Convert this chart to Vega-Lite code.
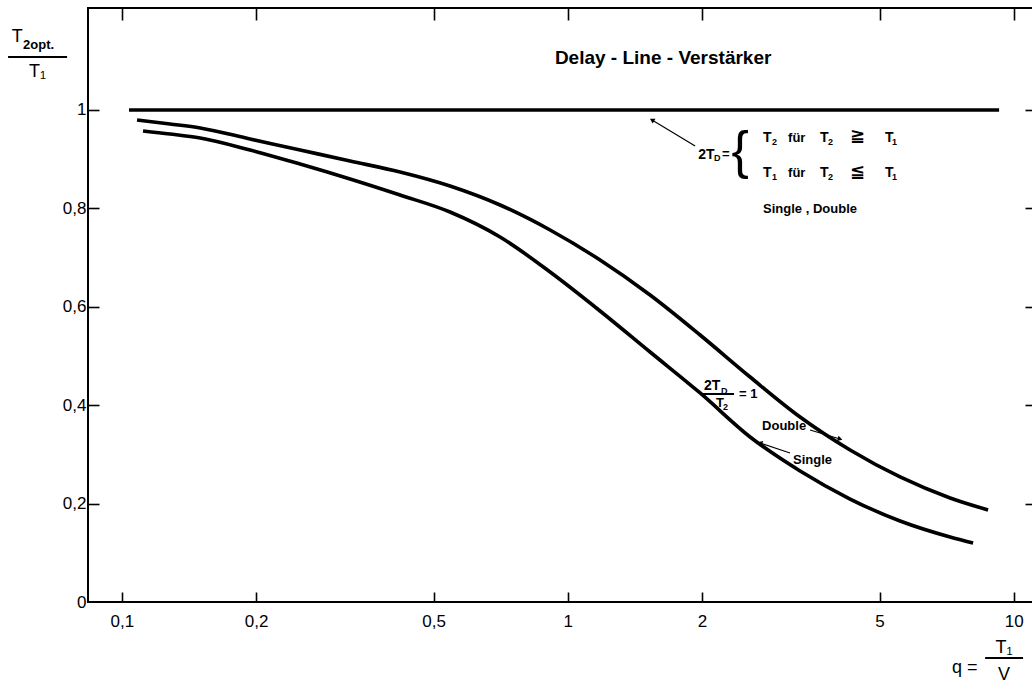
{
  "$schema": "https://vega.github.io/schema/vega-lite/v6.json",
  "width": 946,
  "height": 594,
  "autosize": {"type": "none"},
  "padding": {"left": 88, "top": 8, "right": 0, "bottom": 86},
  "background": "white",
  "config": {
    "view": {"stroke": "black", "strokeWidth": 2},
    "font": "Liberation Sans",
    "axis": {"grid": false, "domain": false, "tickColor": "black", "labelColor": "black", "title": null, "labelFont": "Liberation Sans", "labelFontSize": 17, "tickWidth": 1.6, "labelFlush": false, "labelOverlap": false}
  },
  "datasets": {
    "curves": [
      {"series": "flat", "q": 0.1038, "v": 1.0},
      {"series": "flat", "q": 9.27, "v": 1.0},
      {"series": "Double", "q": 0.1082, "v": 0.9797},
      {"series": "Double", "q": 0.1283, "v": 0.9715},
      {"series": "Double", "q": 0.1499, "v": 0.9634},
      {"series": "Double", "q": 0.1939, "v": 0.9411},
      {"series": "Double", "q": 0.2511, "v": 0.9187},
      {"series": "Double", "q": 0.3250, "v": 0.8963},
      {"series": "Double", "q": 0.4207, "v": 0.8740},
      {"series": "Double", "q": 0.5445, "v": 0.8455},
      {"series": "Double", "q": 0.7050, "v": 0.8069},
      {"series": "Double", "q": 0.9128, "v": 0.7561},
      {"series": "Double", "q": 1.1815, "v": 0.6951},
      {"series": "Double", "q": 1.5295, "v": 0.6240},
      {"series": "Double", "q": 1.9801, "v": 0.5427},
      {"series": "Double", "q": 2.5633, "v": 0.4573},
      {"series": "Double", "q": 3.3178, "v": 0.3760},
      {"series": "Double", "q": 4.2951, "v": 0.3089},
      {"series": "Double", "q": 5.5596, "v": 0.2541},
      {"series": "Double", "q": 7.1975, "v": 0.2114},
      {"series": "Double", "q": 8.7574, "v": 0.1870},
      {"series": "Single", "q": 0.1116, "v": 0.9573},
      {"series": "Single", "q": 0.1283, "v": 0.9512},
      {"series": "Single", "q": 0.1499, "v": 0.9431},
      {"series": "Single", "q": 0.1939, "v": 0.9187},
      {"series": "Single", "q": 0.2511, "v": 0.8902},
      {"series": "Single", "q": 0.3250, "v": 0.8598},
      {"series": "Single", "q": 0.4207, "v": 0.8272},
      {"series": "Single", "q": 0.5445, "v": 0.7927},
      {"series": "Single", "q": 0.7050, "v": 0.7419},
      {"series": "Single", "q": 0.9128, "v": 0.6707},
      {"series": "Single", "q": 1.1815, "v": 0.5915},
      {"series": "Single", "q": 1.5295, "v": 0.5081},
      {"series": "Single", "q": 1.9801, "v": 0.4248},
      {"series": "Single", "q": 2.5633, "v": 0.3354},
      {"series": "Single", "q": 3.3178, "v": 0.2663},
      {"series": "Single", "q": 4.2951, "v": 0.2093},
      {"series": "Single", "q": 5.5596, "v": 0.1646},
      {"series": "Single", "q": 7.1975, "v": 0.1321},
      {"series": "Single", "q": 8.105, "v": 0.1199}
    ]
  },
  "encoding": {
    "x": {"field": "q", "type": "quantitative", "scale": {"type": "log", "domain": [0.084, 11.1]}, "axis": null},
    "y": {"field": "v", "type": "quantitative", "scale": {"domain": [0, 1.2073]}, "axis": null}
  },
  "layer": [
    {
      "data": {"name": "curves"},
      "mark": {"type": "line", "color": "black", "strokeWidth": 3.6, "interpolate": "monotone", "strokeCap": "butt"},
      "encoding": {
        "x": {"field": "q", "type": "quantitative", "scale": {"type": "log", "domain": [0.084, 11.1]},
          "axis": {"orient": "bottom", "values": [0.1, 0.2, 0.5, 1, 2, 5, 10], "labelExpr": "replace(format(datum.value, '~g'), '.', ',')", "tickSize": -10, "labelPadding": 21}},
        "y": {"field": "v", "type": "quantitative", "scale": {"domain": [0, 1.2073]},
          "axis": {"orient": "left", "values": [0, 0.2, 0.4, 0.6, 0.8, 1], "labelExpr": "replace(format(datum.value, '~g'), '.', ',')", "tickSize": -11, "labelPadding": 13, "tickOpacity": {"condition": {"test": "datum.value === 0", "value": 0}, "value": 1}}},
        "detail": {"field": "series", "type": "nominal"}
      }
    },
    {
      "data": {"name": "curves"},
      "mark": {"type": "point", "opacity": 0},
      "encoding": {
        "x": {"field": "q", "type": "quantitative", "scale": {"type": "log", "domain": [0.084, 11.1]},
          "axis": {"orient": "top", "values": [0.1, 0.2, 0.5, 1, 2, 5, 10], "labels": false, "tickSize": -12}},
        "y": {"field": "v", "type": "quantitative", "scale": {"domain": [0, 1.2073]},
          "axis": {"orient": "right", "values": [0.2, 0.4, 0.6, 0.8, 1], "labels": false, "tickSize": -9}}
      }
    },
    {
      "data": {"values": [{"text": "Delay - Line - Verstärker", "q": 1.636, "v": 1.1057}]},
      "mark": {"type": "text", "align": "center", "baseline": "middle", "fontSize": 19, "fontWeight": "bold", "color": "black"},
      "encoding": {"text": {"field": "text"}}
    },
    {
      "data": {"values": [
        {"text": "für", "q": 3.1182, "v": 0.9431},
        {"text": "für", "q": 3.1182, "v": 0.8720},
        {"text": "Single , Double", "q": 2.7409, "v": 0.7988},
        {"text": "Double", "q": 2.727, "v": 0.3577},
        {"text": "Single", "q": 3.2, "v": 0.2886},
        {"text": "=", "q": 2.2178, "v": 0.9105},
        {"text": "T", "q": 2.1499, "v": 0.4045},
        {"text": "= 1", "q": 2.4214, "v": 0.4228}
      ]},
      "mark": {"type": "text", "align": "left", "baseline": "middle", "fontSize": 13, "fontWeight": "bold", "color": "black"},
      "encoding": {"text": {"field": "text"}}
    },
    {
      "data": {"values": [
        {"text": "T", "q": 2.7409, "v": 0.9431},
        {"text": "T", "q": 3.679, "v": 0.9431},
        {"text": "T", "q": 5.1446, "v": 0.9431},
        {"text": "T", "q": 2.7409, "v": 0.8720},
        {"text": "T", "q": 3.679, "v": 0.8720},
        {"text": "T", "q": 5.1446, "v": 0.8720},
        {"text": "2T", "q": 1.96, "v": 0.9085},
        {"text": "2T", "q": 2.0212, "v": 0.4390}
      ]},
      "mark": {"type": "text", "align": "left", "baseline": "middle", "fontSize": 14, "fontWeight": "bold", "color": "black"},
      "encoding": {"text": {"field": "text"}}
    },
    {
      "data": {"values": [
        {"text": "2", "q": 2.8715, "v": 0.9350},
        {"text": "2", "q": 3.834, "v": 0.9350},
        {"text": "1", "q": 5.3339, "v": 0.9350},
        {"text": "1", "q": 2.8715, "v": 0.8638},
        {"text": "2", "q": 3.834, "v": 0.8638},
        {"text": "1", "q": 5.3339, "v": 0.8638},
        {"text": "D", "q": 2.1281, "v": 0.9024},
        {"text": "D", "q": 2.2064, "v": 0.4289},
        {"text": "2", "q": 2.2293, "v": 0.3963}
      ]},
      "mark": {"type": "text", "align": "left", "baseline": "middle", "fontSize": 9, "fontWeight": "bold", "color": "black"},
      "encoding": {"text": {"field": "text"}}
    },
    {
      "data": {"values": [
        {"text": "≧", "q": 4.2951, "v": 0.9472},
        {"text": "≦", "q": 4.2951, "v": 0.8740}
      ]},
      "mark": {"type": "text", "align": "left", "baseline": "middle", "fontSize": 18, "font": "DejaVu Sans", "fontWeight": "bold", "color": "black"},
      "encoding": {"text": {"field": "text"}}
    },
    {
      "data": {"values": [{"text": "{", "q": 2.4339, "v": 0.9146}]},
      "mark": {"type": "text", "align": "center", "baseline": "middle", "fontSize": 52, "font": "Liberation Sans", "color": "black"},
      "encoding": {"text": {"field": "text"}}
    },
    {
      "data": {"values": [
        {"text": "T", "q": 0.05826, "v": 1.1484},
        {"text": "T₁", "q": 0.06477, "v": 1.0772},
        {"text": "T₁", "q": 9.513, "v": -0.0935},
        {"text": "V", "q": 9.513, "v": -0.1484}
      ]},
      "mark": {"type": "text", "align": "center", "baseline": "middle", "fontSize": 18, "color": "black"},
      "encoding": {"text": {"field": "text"}}
    },
    {
      "data": {"values": [{"text": "q =", "q": 7.271, "v": -0.1341}]},
      "mark": {"type": "text", "align": "left", "baseline": "middle", "fontSize": 18, "color": "black"},
      "encoding": {"text": {"field": "text"}}
    },
    {
      "data": {"values": [{"text": "2opt.", "q": 0.06009, "v": 1.1321}]},
      "mark": {"type": "text", "align": "left", "baseline": "middle", "fontSize": 13, "fontWeight": "bold", "color": "black"},
      "encoding": {"text": {"field": "text"}}
    },
    {
      "data": {"values": [
        {"q": 0.0556, "v": 1.1077, "q2": 0.07541, "v2": 1.1077},
        {"q": 8.625, "v": -0.1138, "q2": 10.49, "v2": -0.1138},
        {"q": 1.9901, "v": 0.4228, "q2": 2.3597, "v2": 0.4228}
      ]},
      "mark": {"type": "rule", "color": "black", "strokeWidth": 2},
      "encoding": {"x2": {"field": "q2"}, "y2": {"field": "v2"}}
    },
    {
      "data": {"values": [
        {"q": 1.93, "v": 0.9268, "q2": 1.545, "v2": 0.9797},
        {"q": 3.494, "v": 0.3496, "q2": 4.078, "v2": 0.3313},
        {"q": 3.15, "v": 0.3028, "q2": 2.699, "v2": 0.3232}
      ]},
      "mark": {"type": "rule", "color": "black", "strokeWidth": 1.2},
      "encoding": {"x2": {"field": "q2"}, "y2": {"field": "v2"}}
    },
    {
      "data": {"values": [{"q": 1.545, "v": 0.9797}]},
      "mark": {"type": "point", "shape": "triangle-up", "filled": true, "color": "black", "size": 30, "angle": 301, "opacity": 1},
      "encoding": {}
    },
    {
      "data": {"values": [{"q": 4.078, "v": 0.3313}]},
      "mark": {"type": "point", "shape": "triangle-up", "filled": true, "color": "black", "size": 30, "angle": 107, "opacity": 1},
      "encoding": {}
    },
    {
      "data": {"values": [{"q": 2.699, "v": 0.3232}]},
      "mark": {"type": "point", "shape": "triangle-up", "filled": true, "color": "black", "size": 30, "angle": 288, "opacity": 1},
      "encoding": {}
    }
  ],
  "resolve": {"axis": {"x": "independent", "y": "independent"}}
}
